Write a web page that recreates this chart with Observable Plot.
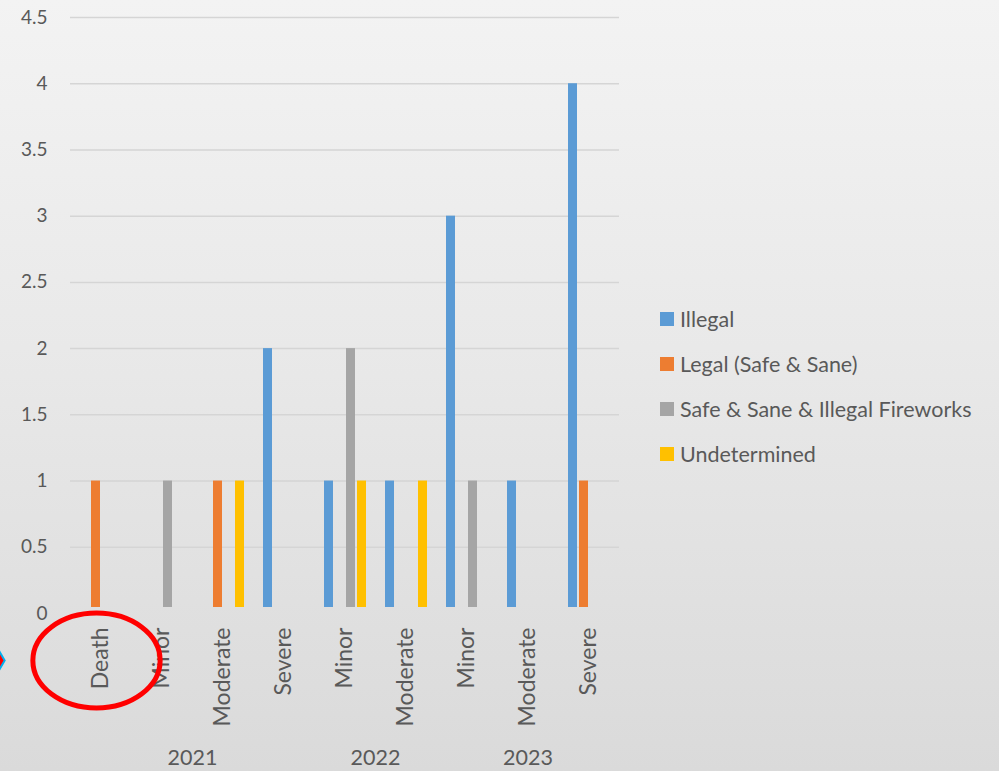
<!DOCTYPE html>
<html><head><meta charset="utf-8">
<script src="https://cdn.jsdelivr.net/npm/d3@7"></script>
<script src="https://cdn.jsdelivr.net/npm/@observablehq/plot@0.6"></script>
<style>
html,body{margin:0;padding:0;}
body{width:999px;height:771px;overflow:hidden;position:relative;
  background:linear-gradient(to bottom,#f3f3f3 0%,#e9e9e9 45%,#dadada 100%);
  font-family:Lato,"Open Sans",sans-serif;color:#595959;}
#chart{position:absolute;left:0;top:0;}
#legend{position:absolute;left:660px;top:296px;}
.row{height:45px;display:flex;align-items:center;font-size:21.5px;white-space:nowrap;}
.sw{width:14px;height:14px;margin-right:6px;flex:none;}
</style></head><body>
<div id="chart"></div><div id="legend"></div>
<script>
// Category levels
const years      = ["2021","2021","2021","2021","2022","2022","2023","2023","2023"];
const severities = ["Death","Minor","Moderate","Severe","Minor","Moderate","Minor","Moderate","Severe"];
// Series
const seriesNames = ["Illegal","Legal (Safe & Sane)","Safe & Sane & Illegal Fireworks","Undetermined"];
const seriesColors = ["#5b9bd5","#ed7d31","#a5a5a5","#ffc000"];
const illegal         = [0,0,0,2,1,1,3,1,4];
const legal           = [1,0,1,0,0,0,0,0,1];
const safeSaneIllegal = [0,1,0,0,2,0,1,0,0];
const undetermined    = [0,0,1,0,1,1,0,0,0];
const yTicks = [0,0.5,1,1.5,2,2.5,3,3.5,4,4.5];

const seriesValues = [illegal, legal, safeSaneIllegal, undetermined];
const keys = years.map((y,i)=>y+"|"+severities[i]);
const rows = [];
keys.forEach((k,i)=>seriesNames.forEach((s,j)=>{
  if (seriesValues[j][i] > 0) rows.push({key:k, series:s, value:seriesValues[j][i]});
}));
const cats = keys.map((k,i)=>({key:k, severity:severities[i]}));
const yearLabels = [];
for (const y of [...new Set(years)]) {
  const ks = keys.filter((k,i)=>years[i]===y);
  const n = ks.length;
  if (n % 2 === 0) yearLabels.push({year:y, host:ks[n/2-1], anchor:"bottom-right"});
  else yearLabels.push({year:y, host:ks[(n-1)/2], anchor:"bottom"});
}

const ellipse = {draw(ctx, size){
  const r = Math.sqrt(size/Math.PI), rx = r*1.34, ry = r, k = 0.5523;
  ctx.moveTo(rx,0);
  ctx.bezierCurveTo(rx, ry*k, rx*k, ry, 0, ry);
  ctx.bezierCurveTo(-rx*k, ry, -rx, ry*k, -rx, 0);
  ctx.bezierCurveTo(-rx, -ry*k, -rx*k, -ry, 0, -ry);
  ctx.bezierCurveTo(rx*k, -ry, rx, -ry*k, rx, 0);
  ctx.closePath();
}};

const font = 'Lato, "Open Sans", sans-serif';
const plot = Plot.plot({
  width: 999, height: 771,
  marginLeft: 70, marginRight: 380, marginTop: 17, marginBottom: 158,
  style: {background:"transparent", fontFamily: font, color:"#595959", overflow:"visible"},
  fx: {domain: keys, padding: 0, axis: null},
  x: {domain: seriesNames, paddingInner: 0.2, paddingOuter: 0.87, axis: null},
  y: {domain: [0,4.5]},
  color: {domain: seriesNames, range: seriesColors},
  marks: [
    Plot.gridY(yTicks.filter(d=>d>0), {stroke:"#d5d5d5", strokeOpacity:1, strokeWidth:1.5}),
    Plot.axisY(yTicks, {tickSize:0, tickPadding:23, fontSize:19, label:null, tickFormat:d=>String(d)}),
    Plot.barY(rows, {fx:"key", x:"series", y:"value", fill:"series", insetBottom:6}),
    Plot.text(cats, {fx:"key", text:"severity", frameAnchor:"bottom", rotate:-90,
      textAnchor:"end", lineAnchor:"middle", dy:14, fontSize:23, fill:"#595959"}),
    Plot.text(yearLabels.filter(d=>d.anchor==="bottom-right"), {fx:"host", text:"year",
      frameAnchor:"bottom-right", textAnchor:"middle", lineAnchor:"middle", dy:145, fontSize:21.5, fill:"#595959"}),
    Plot.text(yearLabels.filter(d=>d.anchor==="bottom"), {fx:"host", text:"year",
      frameAnchor:"bottom", textAnchor:"middle", lineAnchor:"middle", dy:145, fontSize:21.5, fill:"#595959"}),
    Plot.dot(["2021|Death"], {fx:d=>d, frameAnchor:"bottom", dx:-4.5, dy:47, r:47.5,
      symbol: ellipse, stroke:"#ff0000", strokeWidth:5, fill:"none"}),
    Plot.dot(["2021|Death"], {fx:d=>d, frameAnchor:"bottom", dx:-103, dy:47, r:7,
      symbol:"diamond", stroke:"#00b0f0", strokeWidth:2, fill:"#ff0000"})
  ]
});
document.getElementById("chart").appendChild(plot);

const legend = d3.select("#legend");
seriesNames.forEach((s,i)=>{
  const row = legend.append("div").attr("class","row");
  row.append("div").attr("class","sw").style("background", seriesColors[i]);
  row.append("span").text(s);
});
</script>
</body></html>
